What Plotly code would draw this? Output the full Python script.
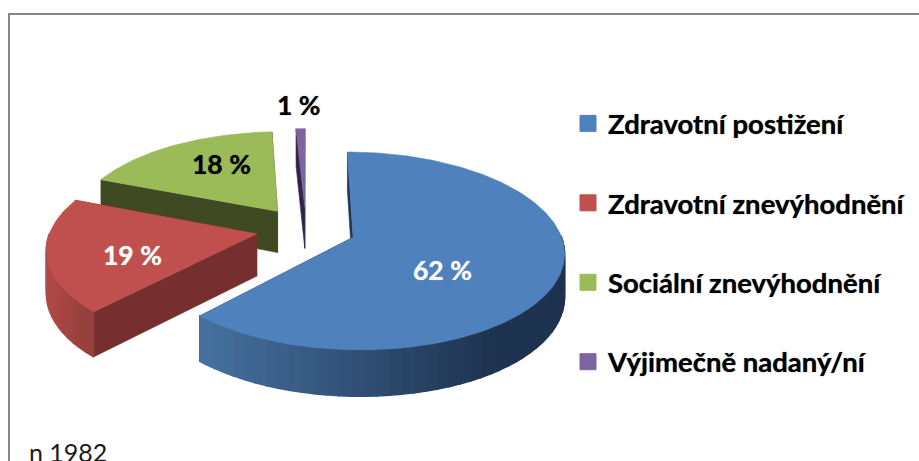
import numpy as np
import plotly.graph_objects as go

categories = ["Zdravotní postižení", "Zdravotní znevýhodnění", "Sociální znevýhodnění", "Výjimečně nadaný/ní"]
values = [62, 19, 18.2, 0.8]
footnote = "n 1982"

top_colors = ["#4F81BD", "#C0504D", "#9BBB59", "#8064A2"]
edge_colors = ["#1F3552", "#752F2E", "#3F4A22", "#2F2448"]
rim_left_colors = ["#46719F", "#B04A47", "#8A9F4C", "#5A4676"]
rim_right_colors = ["#1E3350", "#96403D", "#6F8240", "#3A2C55"]
label_colors = ["white", "white", "black", "black"]
label_shadow = ["0 0 1px rgba(255,255,255,.7)", "0 0 1px rgba(255,255,255,.7)",
                "0 0 1px rgba(0,0,0,.7)", "0 0 1px rgba(0,0,0,.7)"]
label_radius = [0.46, 0.60, 0.60, 1.35]
label_shift = [(-3, -16), (0, -8), (8, 6), (0, 0)]

# projection of the tilted, exploded disc on the page (pixels)
CX, CY = 306.0, 229.0
RX, BY, PERSP = 206.0, 94.8, 0.136
EXPLODE_X, EXPLODE_Y = 0.243, 0.236
W, H = 919, 461


def project(X, Y):
    s = 1 / (1 - PERSP * Y)
    return CX + X * RX * s, CY + BY * Y * s


def depth(Y):
    return 42 + 4 * Y


def poly(xs, ys, color, lw=0.6):
    return go.Scatter(x=xs, y=ys, mode="lines", fill="toself", fillcolor=color,
                      line=dict(color=color, width=lw), hoverinfo="skip", showlegend=False)


def lerp_color(c1, c2, t):
    a = [int(c1[i:i + 2], 16) for i in (1, 3, 5)]
    b = [int(c2[i:i + 2], 16) for i in (1, 3, 5)]
    return "#%02x%02x%02x" % tuple(round(p + (q - p) * t) for p, q in zip(a, b))


fig = go.Figure()
total = sum(values)
edges = np.cumsum([0] + values) / total * 2 * np.pi
order = [3, 2, 1, 0]  # painted back to front

for i in order:
    a0, a1 = edges[i], edges[i + 1]
    mid = (a0 + a1) / 2
    ox, oy = EXPLODE_X * np.sin(mid), -EXPLODE_Y * np.cos(mid)
    ang = np.linspace(a0, a1, max(int(np.degrees(a1 - a0)), 2) + 1)
    rx, ry = ox + np.sin(ang), oy - np.cos(ang)
    px, py = project(rx, ry)
    ax_, ay_ = project(ox, oy)
    # cut faces
    for k in (0, -1):
        h0, h1 = depth(oy), depth(ry[k])
        fig.add_trace(poly([ax_, px[k], px[k], ax_, ax_],
                           [ay_, py[k], py[k] + h1, ay_ + h0, ay_], edge_colors[i]))
    # outer wall, shaded along the rim
    idx = np.where(-np.cos(ang) > -0.02)[0]
    if len(idx) > 1:
        stops = list(idx[::3]) + [idx[-1]]
        for a, b in zip(stops[:-1], stops[1:]):
            if b <= a:
                continue
            seg = np.arange(a, b + 1)
            xs = np.r_[px[seg], px[seg][::-1]]
            ys = np.r_[py[seg], (py[seg] + depth(ry[seg]))[::-1]]
            t = float(np.clip((px[seg].mean() - px.min()) / max(px.max() - px.min(), 1), 0, 1))
            fig.add_trace(poly(np.r_[xs, xs[0]], np.r_[ys, ys[0]],
                               lerp_color(rim_left_colors[i], rim_right_colors[i], min(t * 1.25, 1)),
                               lw=1.5))
    # top face
    fig.add_trace(poly(np.r_[ax_, px, ax_], np.r_[ay_, py, ay_], top_colors[i]))

# legend entries
for name, col in zip(categories, top_colors):
    fig.add_trace(go.Scatter(x=[None], y=[None], mode="markers", name=name, legendgroup=name,
                             marker=dict(symbol="square", size=16, color=col,
                                         line=dict(color=col, width=1)),
                             hoverinfo="skip"))

# data labels
annotations = []
for i, v in enumerate(values):
    mid = (edges[i] + edges[i + 1]) / 2
    ox, oy = EXPLODE_X * np.sin(mid), -EXPLODE_Y * np.cos(mid)
    lx, ly = project(ox + label_radius[i] * np.sin(mid), oy - label_radius[i] * np.cos(mid))
    annotations.append(dict(x=lx, y=ly, text=f"<b>{v:.0f} %</b>", showarrow=False,
                            xanchor="center", yanchor="middle",
                            xshift=label_shift[i][0], yshift=label_shift[i][1],
                            font=dict(family="Lato", size=26.5, color=label_colors[i],
                                      shadow=label_shadow[i])))
annotations.append(dict(x=27, y=452, text=footnote, showarrow=False, xanchor="left", yanchor="middle",
                        font=dict(family="Lato", size=25, color="#1a1a1a")))

fig.update_layout(
    width=W, height=H, margin=dict(l=0, r=0, t=0, b=0),
    paper_bgcolor="white", plot_bgcolor="white",
    xaxis=dict(range=[0, W], visible=False, fixedrange=True),
    yaxis=dict(range=[H, 0], visible=False, fixedrange=True),
    annotations=annotations,
    shapes=[
        dict(type="line", x0=9, x1=9, y0=14, y1=H, line=dict(color="#868686", width=2)),
        dict(type="line", x0=8, x1=W, y0=14, y1=14, line=dict(color="#868686", width=2)),
    ],
    showlegend=True,
    legend=dict(x=568 / W, y=1 - 99 / H, xanchor="left", yanchor="top",
                traceorder="grouped", tracegroupgap=40.7, itemsizing="trace",
                font=dict(family="Lato", size=27.5, color="black", weight="bold",
                          shadow="0 0 1px rgba(0,0,0,.7)"),
                bgcolor="rgba(0,0,0,0)"),
)

fig.write_html("out.html", config={"displayModeBar": False},
               post_script="document.body.style.margin='0';document.body.style.overflow='hidden';")
